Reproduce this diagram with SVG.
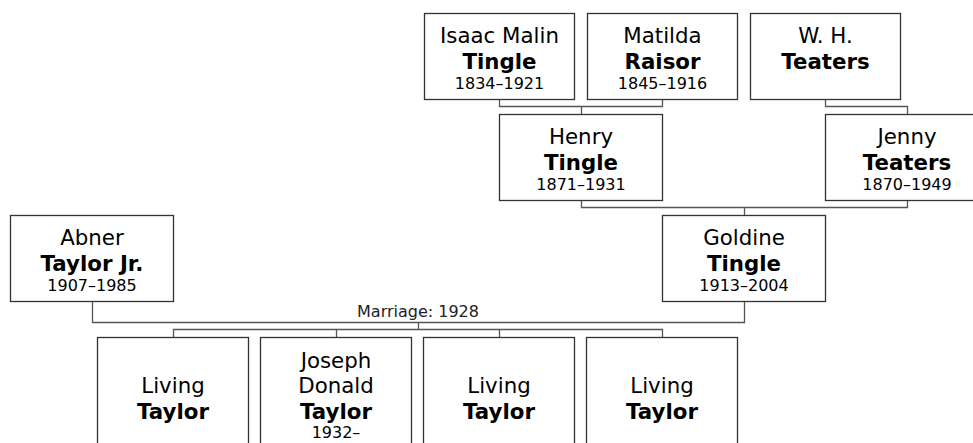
<svg xmlns="http://www.w3.org/2000/svg" width="973" height="443" viewBox="0 0 973 443">
  <style>
    .box { fill: #ffffff; stroke: #333333; stroke-width: 1.3; }
    .conn { fill: none; stroke: #555555; stroke-width: 1.3; }
    text { font-family: "DejaVu Sans", Verdana, "Liberation Sans", sans-serif; fill: #000000; text-anchor: middle; }
    .nm { font-size: 21.33px; }
    .sn { font-size: 21.33px; font-weight: bold; }
    .dt { font-size: 16px; }
    .lbl { font-size: 16px; fill: #222222; }
  </style>
  <rect width="973" height="443" fill="#ffffff"/>

  <g id="connectors">
    <path class="conn" d="M499.5 99.5 V106.5 H662.5 V99.5 M581.5 106.5 V114.5"/>
    <path class="conn" d="M825.5 99.5 V106.5 H907.5 V114.5"/>
    <path class="conn" d="M581.5 200.5 V207.5 H907.5 V200.5 M744.5 207.5 V215.5"/>
    <path class="conn" d="M92.5 301.5 V322.5 H744.5 V301.5"/>
    <path class="conn" d="M418.5 322.5 V329.5 M173.5 337.5 V329.5 H662.5 V337.5 M336.5 329.5 V337.5 M499.5 329.5 V337.5"/>
    <text class="lbl" x="418" y="317">Marriage: 1928</text>
  </g>

  <g id="isaac-tingle">
    <rect class="box" x="424.5" y="13.5" width="150" height="86"/>
    <text class="nm" x="499.5" y="42.5">Isaac Malin</text>
    <text class="sn" x="499.5" y="68.5">Tingle</text>
    <text class="dt" x="499.5" y="89">1834–1921</text>
  </g>
  <g id="matilda-raisor">
    <rect class="box" x="587.5" y="13.5" width="150" height="86"/>
    <text class="nm" x="662.5" y="42.5">Matilda</text>
    <text class="sn" x="662.5" y="68.5">Raisor</text>
    <text class="dt" x="662.5" y="89">1845–1916</text>
  </g>
  <g id="wh-teaters">
    <rect class="box" x="750.5" y="13.5" width="150" height="86"/>
    <text class="nm" x="825.5" y="42.5">W. H.</text>
    <text class="sn" x="825.5" y="68.5">Teaters</text>
  </g>
  <g id="henry-tingle">
    <rect class="box" x="499.5" y="114.5" width="163" height="86"/>
    <text class="nm" x="581" y="143.5">Henry</text>
    <text class="sn" x="581" y="169.5">Tingle</text>
    <text class="dt" x="581" y="190">1871–1931</text>
  </g>
  <g id="jenny-teaters">
    <rect class="box" x="825.5" y="114.5" width="163" height="86"/>
    <text class="nm" x="907" y="143.5">Jenny</text>
    <text class="sn" x="907" y="169.5">Teaters</text>
    <text class="dt" x="907" y="190">1870–1949</text>
  </g>
  <g id="goldine-tingle">
    <rect class="box" x="662.5" y="215.5" width="163" height="86"/>
    <text class="nm" x="744" y="245">Goldine</text>
    <text class="sn" x="744" y="271">Tingle</text>
    <text class="dt" x="744" y="291">1913–2004</text>
  </g>
  <g id="abner-taylor">
    <rect class="box" x="10.5" y="215.5" width="163" height="86"/>
    <text class="nm" x="92" y="245">Abner</text>
    <text class="sn" x="92" y="271">Taylor Jr.</text>
    <text class="dt" x="92" y="291">1907–1985</text>
  </g>
  <g id="living-taylor-1">
    <rect class="box" x="97.5" y="337.5" width="151" height="120"/>
    <text class="nm" x="173" y="393">Living</text>
    <text class="sn" x="173" y="418.5">Taylor</text>
  </g>
  <g id="joseph-taylor">
    <rect class="box" x="260.5" y="337.5" width="151" height="120"/>
    <text class="nm" x="336" y="367.5">Joseph</text>
    <text class="nm" x="336" y="393">Donald</text>
    <text class="sn" x="336" y="418.5">Taylor</text>
    <text class="dt" x="336" y="438">1932–</text>
  </g>
  <g id="living-taylor-3">
    <rect class="box" x="423.5" y="337.5" width="151" height="120"/>
    <text class="nm" x="499" y="393">Living</text>
    <text class="sn" x="499" y="418.5">Taylor</text>
  </g>
  <g id="living-taylor-4">
    <rect class="box" x="586.5" y="337.5" width="151" height="120"/>
    <text class="nm" x="662" y="393">Living</text>
    <text class="sn" x="662" y="418.5">Taylor</text>
  </g>
</svg>
